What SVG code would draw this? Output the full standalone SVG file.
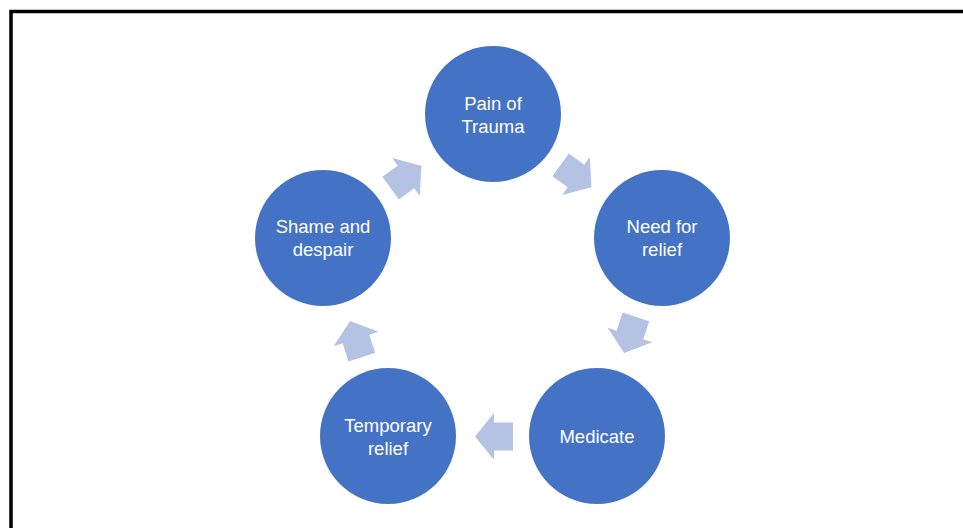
<svg xmlns="http://www.w3.org/2000/svg" width="963" height="528" viewBox="0 0 963 528">
<style>
.node{fill:#4472C4}
.lbl{fill:#ffffff;font-family:"Liberation Sans",Arial,sans-serif;font-size:18.5px;text-anchor:middle}
.arr{fill:#B4C2E3}
</style>
<defs>
<polygon id="arrow" points="-19,-14 0,-14 0,-23.5 19,0 0,23.5 0,14 -19,14"/>
</defs>
<rect x="0" y="0" width="963" height="528" fill="#ffffff"/>
<rect x="11" y="11.5" width="1000" height="600" fill="none" stroke="#000000" stroke-width="3.5"/>
<g id="connectors" class="arr">
<use href="#arrow" transform="translate(576,176) rotate(36)"/>
<use href="#arrow" transform="translate(630,335) rotate(108)"/>
<use href="#arrow" transform="translate(494,436.5) rotate(180)"/>
<use href="#arrow" transform="translate(356,339) rotate(252)"/>
<use href="#arrow" transform="translate(406,177) rotate(324)"/>
</g>
<g id="pain">
<circle class="node" cx="493" cy="114" r="68"/>
<text class="lbl" x="493" y="110">Pain of</text>
<text class="lbl" x="493" y="133">Trauma</text>
</g>
<g id="need">
<circle class="node" cx="662" cy="238" r="68"/>
<text class="lbl" x="662" y="233">Need for</text>
<text class="lbl" x="662" y="256">relief</text>
</g>
<g id="medicate">
<circle class="node" cx="597" cy="436" r="68"/>
<text class="lbl" x="597" y="443">Medicate</text>
</g>
<g id="temporary">
<circle class="node" cx="388" cy="436" r="68"/>
<text class="lbl" x="388" y="432">Temporary</text>
<text class="lbl" x="388" y="455">relief</text>
</g>
<g id="shame">
<circle class="node" cx="323" cy="238" r="68"/>
<text class="lbl" x="323" y="233">Shame and</text>
<text class="lbl" x="323" y="256">despair</text>
</g>
</svg>
